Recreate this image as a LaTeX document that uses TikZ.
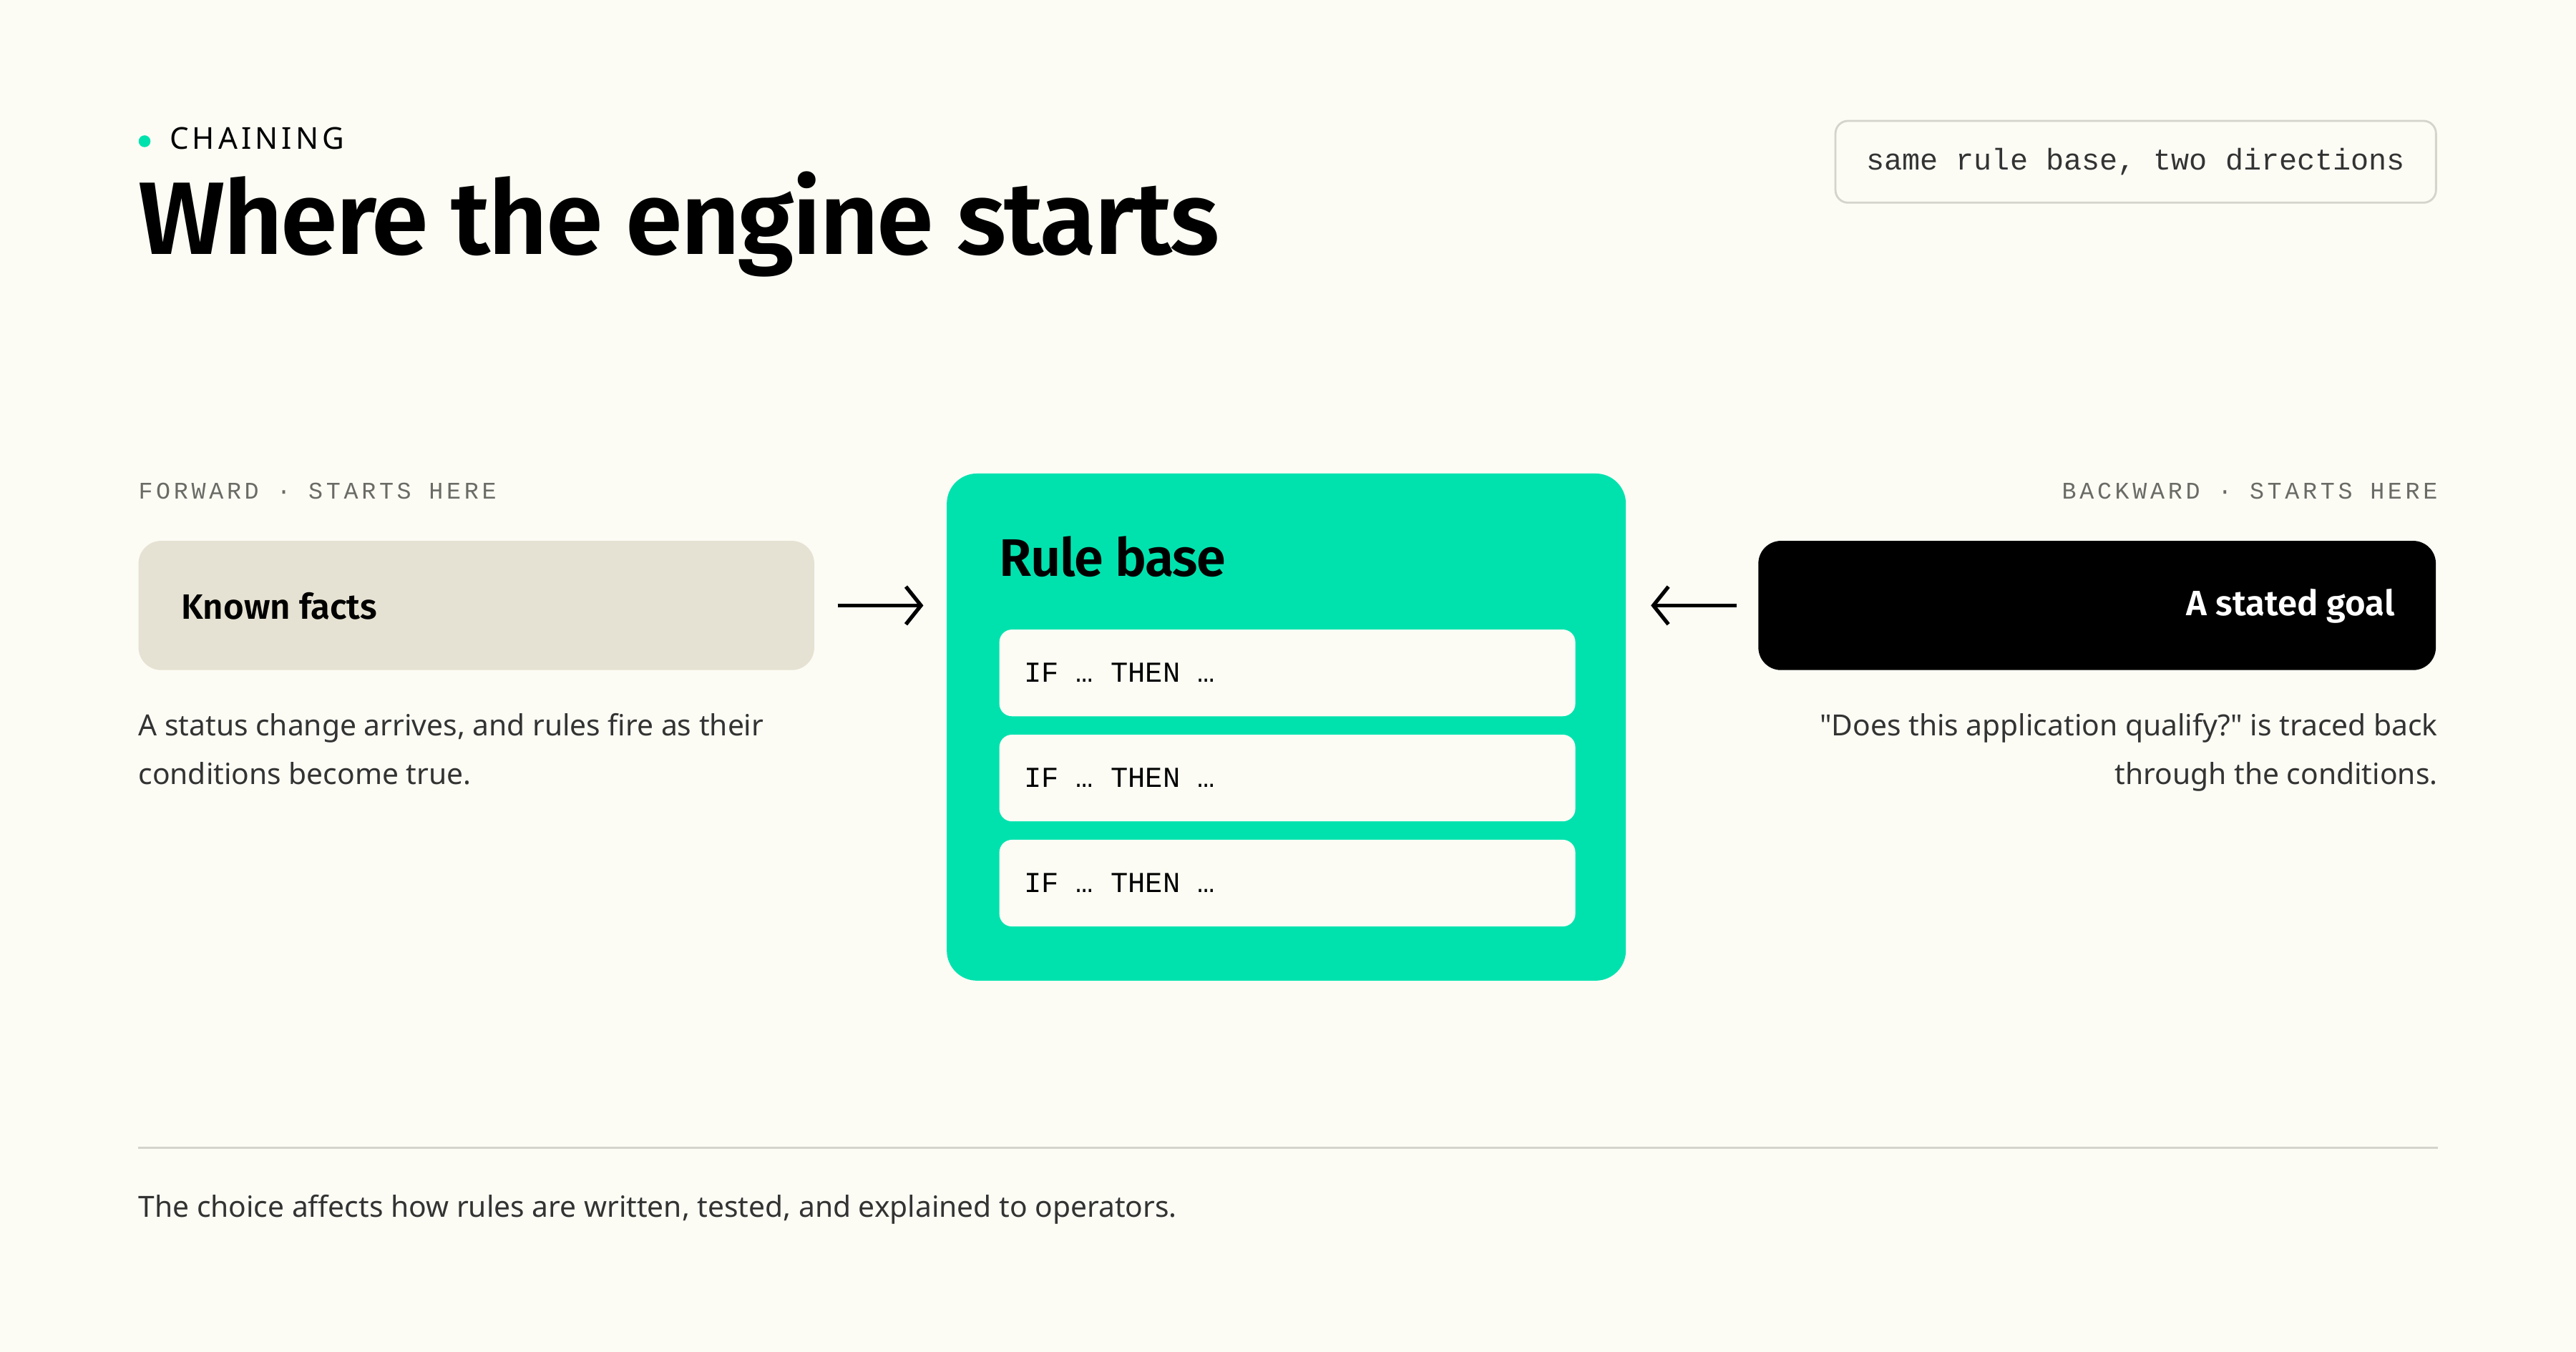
\documentclass[tikz,border=0pt]{standalone}
\usepackage{fontspec}
\setmainfont{Noto Sans}
\newfontfamily\bodyfont{Noto Sans}
\newfontfamily\titlefont[LetterSpace=-2]{Fira Sans SemiBold}
\newfontfamily\headfont{Fira Sans SemiBold}
\newfontfamily\capsfont[LetterSpace=12]{Noto Sans}
\newfontfamily\codefont{Liberation Mono}
\newfontfamily\labelfont[LetterSpace=14]{Liberation Mono}
\usetikzlibrary{arrows.meta,positioning}
\definecolor{paper}{HTML}{FCFCF5}
\definecolor{mint}{HTML}{00E2AE}
\definecolor{sand}{HTML}{E6E2D3}
\definecolor{ink}{HTML}{333333}
\definecolor{muted}{HTML}{6B6B66}
\definecolor{rule}{HTML}{D4D4CC}
\newcommand\px{0.6508pt}
\tikzset{%
    card/.style={rounded corners=9pt, inner sep=0pt, anchor=north west},
    rowbox/.style={fill=paper, rounded corners=5pt, minimum width=352*\px, minimum height=53*\px, inner sep=0pt, anchor=north west},
    note/.style={inner sep=0pt, text=ink, font=\bodyfont\fontsize{11.6}{19.5}\selectfont},
    flow/.style={-{Straight Barb[length=6pt,width=15pt]}, line width=1.5pt}
}
\begin{document}
\begin{tikzpicture}[x=0.022959cm, y=-0.022959cm]
    \fill[paper] (0,0) rectangle (1568,823);
    \useasboundingbox (0,0) rectangle (1568,823);
%-----------------------------------------------
    \fill[mint] (88,86) circle (3.6);
    \node[anchor=base west, inner sep=0pt] (kicker) at (103,91) {\capsfont\fontsize{12}{14}\selectfont CHAINING};
    \node[anchor=base west, inner sep=0pt] (title) at (84,155) {\titlefont\fontsize{41}{46}\selectfont Where the engine starts};
    \node[draw=rule, line width=0.8pt, rounded corners=5pt, minimum width=367*\px, minimum height=50*\px, inner sep=0pt] (tag) at (1300,98.5) {\codefont\fontsize{11.9}{13}\selectfont\color{ink}same rule base, two directions};
%-----------------------------------------------
    \node[anchor=base west, inner sep=0pt] (fwdlabel) at (84,304) {\labelfont\fontsize{9.5}{11}\selectfont\color{muted}FORWARD · STARTS HERE};
    \node[anchor=base east, inner sep=0pt] (bwdlabel) at (1484,304) {\labelfont\fontsize{9.5}{11}\selectfont\color{muted}BACKWARD · STARTS HERE};
%-----------------------------------------------
    \node[card, fill=sand, minimum width=413*\px, minimum height=79*\px] (facts) at (84,329) {};
    \node[anchor=west, inner sep=0pt] (factstext) at (110,369) {\headfont\fontsize{14}{16}\selectfont Known facts};
    \node[card, fill=black, minimum width=414*\px, minimum height=79*\px] (goal) at (1070,329) {};
    \node[anchor=east, inner sep=0pt, text=white] (goaltext) at (1458,369) {\headfont\fontsize{14}{16}\selectfont A stated goal};
    \node[card, fill=mint, rounded corners=12pt, minimum width=415*\px, minimum height=310*\px] (rules) at (576,288) {};
    \node[anchor=base west, inner sep=0pt] (rulestitle) at (608,351) {\titlefont\fontsize{21}{24}\selectfont Rule base};
%-----------------------------------------------
    \foreach \y/\n in {383/one, 447/two, 511/three} {
        \node[rowbox] (row\n) at (608,\y) {};
        \node[anchor=west, inner sep=0pt] at (623,\y+26.5) {\codefont\fontsize{11.5}{13}\selectfont IF … THEN …};
    }
%-----------------------------------------------
    \draw[flow] ([xshift=14*\px]facts.east) -- ([xshift=-14*\px]rules.west |- facts.east);
    \draw[flow] ([xshift=-13*\px]goal.west) -- ([xshift=15*\px]rules.east |- goal.west);
%-----------------------------------------------
    \node[note, anchor=north west, align=left] (factsnote) at (84,434) {A status change arrives, and rules fire as their\\conditions become true.};
    \node[note, anchor=north east, align=right] (goalnote) at (1484,434) {"Does this application qualify?" is traced back\\through the conditions.};
%-----------------------------------------------
    \draw[rule, line width=0.8pt] (84,699) -- (1484,699);
    \node[note, anchor=base west] (footer) at (84,741) {The choice affects how rules are written, tested, and explained to operators.};
\end{tikzpicture}
\end{document}
